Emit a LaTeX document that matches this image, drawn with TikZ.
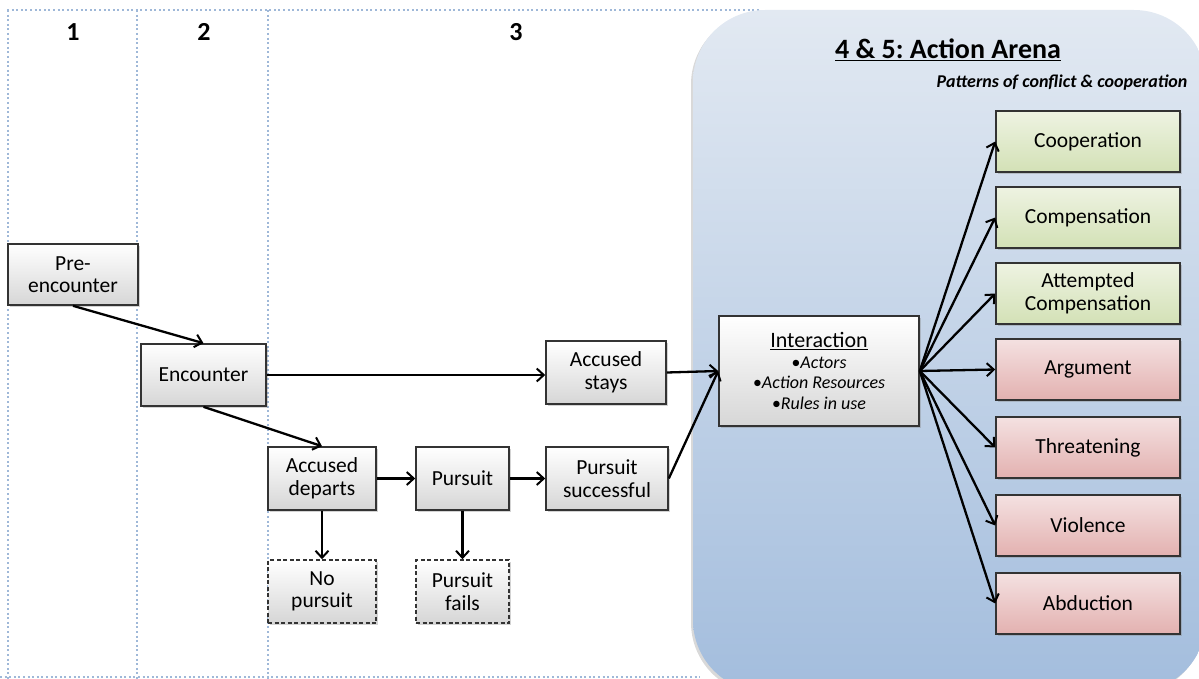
\documentclass[tikz,border=0pt]{standalone}
\usepackage{fontspec}
\setmainfont{Carlito}
\frenchspacing
\usetikzlibrary{arrows.meta,shadows,calc}
\definecolor{guide}{HTML}{9FB8D8}
\definecolor{arenatop}{HTML}{E2E9F2}
\definecolor{arenabot}{HTML}{A3BDDD}
\definecolor{gtop}{HTML}{EEF3E2}
\definecolor{gbot}{HTML}{D3E1B6}
\definecolor{rtop}{HTML}{F4E1E1}
\definecolor{rbot}{HTML}{E3B1B0}
\tikzset{
  box/.style={draw=black!80, line width=1.6pt, top color=white, bottom color=black!16,
    drop shadow={opacity=0.35, shadow xshift=2pt, shadow yshift=-2pt},
    align=center, inner sep=0pt, font=\fontsize{21.5}{22.5}\selectfont},
  dbox/.style={box, dashed, dash pattern=on 4pt off 2.5pt},
  gbox/.style={box, top color=gtop, bottom color=gbot, minimum width=184pt, minimum height=61pt},
  rbox/.style={box, top color=rtop, bottom color=rbot, minimum width=184pt, minimum height=61pt},
  arr/.style={line width=2.3pt, -{Straight Barb[length=7pt,width=13pt,line width=2pt]}},
  guideline/.style={guide, line width=2.2pt, dash pattern=on 2pt off 2.6pt},
  colnum/.style={font=\fontsize{26}{28}\selectfont\bfseries},
}
\begin{document}
\begin{tikzpicture}[x=1pt,y=-1pt]
\useasboundingbox (0,0) rectangle (1199,679);
\clip (0,0) rectangle (1199,679);
% guide lines
\draw[guideline] (7,10) -- (760,10);
\draw[guideline] (8,10) -- (8,679);
\draw[guideline] (137,10) -- (137,679);
\draw[guideline] (268,10) -- (268,679);
\draw[guideline] (0,677) -- (700,677);
% arena
\path[top color=arenatop, bottom color=arenabot, rounded corners=72pt,
  drop shadow={opacity=0.3, shadow xshift=-2pt, shadow yshift=-2.5pt}]
  (693,10) rectangle (1206,692);
% column labels
\node[colnum] (c1) at (73,32) {1};
\node[colnum] (c2) at (204,32) {2};
\node[colnum] (c3) at (516,32) {3};
\node[font=\fontsize{28}{30}\selectfont\bfseries] (title) at (948,50) {\underline{4 \& 5: Action Arena}};
\node[font=\fontsize{18}{20}\selectfont\bfseries\itshape] (sub) at (1062,83) {Patterns of conflict \& cooperation};
% nodes
\node[box, minimum width=130pt, minimum height=61pt] (pre) at (73,274.5) {Pre-\\encounter};
\node[box, minimum width=125pt, minimum height=62pt] (enc) at (203.5,375) {Encounter};
\node[box, minimum width=120pt, minimum height=63pt] (stays) at (606,372.5) {Accused\\stays};
\node[box, minimum width=108pt, minimum height=63pt] (dep) at (322,478.5) {Accused\\departs};
\node[box, minimum width=93pt, minimum height=63pt] (pur) at (462.5,478.5) {Pursuit};
\node[box, minimum width=122pt, minimum height=63pt] (succ) at (607,478.5) {Pursuit\\successful};
\node[dbox, minimum width=108pt, minimum height=63pt] (nop) at (322,591.5) {No\\pursuit};
\node[dbox, minimum width=93pt, minimum height=63pt] (fail) at (462.5,591.5) {Pursuit\\fails};
\node[box, minimum width=200pt, minimum height=110pt, font=\fontsize{18}{20.5}\selectfont] (int) at (819,371)
  {\fontsize{22}{24}\selectfont\underline{Interaction}\\ \itshape •Actors\\ \itshape •Action Resources\\ \itshape •Rules in use};
\node[gbox] (coop) at (1088,141.5) {Cooperation};
\node[gbox] (comp) at (1088,217.5) {Compensation};
\node[gbox] (att) at (1088,293.5) {Attempted\\Compensation};
\node[rbox] (argu) at (1088,369.5) {Argument};
\node[rbox] (thr) at (1088,447.5) {Threatening};
\node[rbox] (vio) at (1088,525.5) {Violence};
\node[rbox] (abd) at (1088,603.5) {Abduction};
% connectors
\draw[arr] (pre.south) -- (enc.north);
\draw[arr] (enc.east) -- (enc.east -| stays.west);
\draw[arr] (enc.south) -- (dep.north);
\draw[arr] (dep.east) -- (pur.west);
\draw[arr] (pur.east) -- (succ.west);
\draw[arr] (dep.south) -- (nop.north);
\draw[arr] (pur.south) -- (fail.north);
\draw[arr] (stays.east) -- (int.west);
\draw[arr] (succ.east) -- (int.west);
\foreach \t in {coop,comp,att,argu,thr,vio,abd}
  \draw[arr] (int.east) -- (\t.west);
\end{tikzpicture}
\end{document}
